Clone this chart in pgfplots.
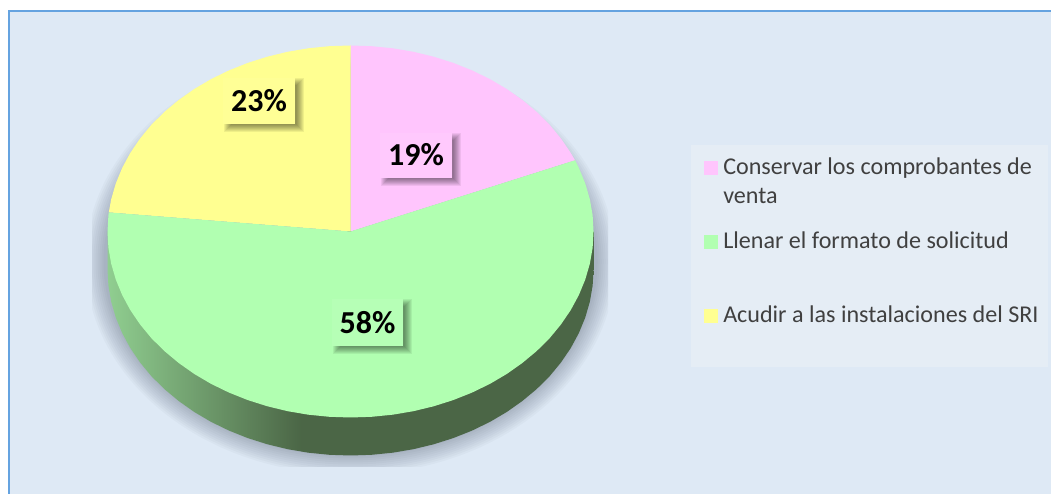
\documentclass[border=0pt]{standalone}
\usepackage{pgfplots}
\pgfplotsset{compat=1.18}
\usepackage{fontspec}
\setmainfont{Carlito}
\definecolor{panelbg}{HTML}{DEE9F5}
\definecolor{panelline}{HTML}{65A3E0}
\definecolor{legbg}{HTML}{E5EDF5}
\definecolor{piepink}{HTML}{FFC5FD}
\definecolor{piegreen}{HTML}{B1FFB1}
\definecolor{pieyellow}{HTML}{FFFF91}
\definecolor{labpink}{HTML}{FFC9FD}
\definecolor{labgreen}{HTML}{B6FFB6}
\definecolor{labyellow}{HTML}{FFFF96}
\definecolor{legtext}{HTML}{404040}
\definecolor{shadowc}{HTML}{101E38}
\definecolor{sideA}{HTML}{90CE90}
\definecolor{sideB}{HTML}{4B6646}
\pgfdeclarehorizontalshading{sideshade}{100bp}{%
  color(0bp)=(sideA); color(25bp)=(sideA); color(44.9bp)=(sideB); color(100bp)=(sideB)}
% one layer of the soft shadow behind a data label
\newcommand\shd[5]{\fill[black,opacity=.062]
  ([shift={(4.5pt-#5pt,-4.5pt+#5pt)}]axis cs:#1,#3) rectangle ([shift={(4.5pt+#5pt,-4.5pt-#5pt)}]axis cs:#2,#4);}
% data label: x1 x2 ytop ybottom fill text
\newcommand\lab[6]{%
  \shd{#1}{#2}{#3}{#4}{4}\shd{#1}{#2}{#3}{#4}{3}\shd{#1}{#2}{#3}{#4}{2}\shd{#1}{#2}{#3}{#4}{1}%
  \shd{#1}{#2}{#3}{#4}{0}\shd{#1}{#2}{#3}{#4}{-1}\shd{#1}{#2}{#3}{#4}{-2}\shd{#1}{#2}{#3}{#4}{-3}%
  \fill[#5] (axis cs:#1,#3) rectangle (axis cs:#2,#4);
  \node[anchor=base,font=\fontsize{32}{32}\selectfont\bfseries,text=black,inner sep=0pt]
    at (axis cs:{(#1+#2)/2},{#4+12}) {#6};}
\begin{document}
\begin{tikzpicture}
\begin{axis}[
  at={(0,0)},anchor=south west,
  scale only axis,width=1051pt,height=494pt,
  xmin=-350.5,xmax=700.5,ymin=-262.5,ymax=231.5,
  hide axis,clip=false]

% panel
\addplot[fill=panelbg,draw=none] coordinates {(-342.5,220.5) (720,220.5) (720,-280) (-342.5,-280)} --cycle;
\addplot[draw=panelline,line width=2pt] coordinates {(-342,-280) (-342,220.5) (720,220.5)};

% soft shadow of the pie
\begin{scope}
\clip (axis cs:-258.5,231.5) rectangle (axis cs:257.5,-235.5);
\fill[shadowc,opacity=.026] (axis cs:0,-30) ellipse [x radius=265,y radius=213];
\fill[shadowc,opacity=.026] (axis cs:0,-30) ellipse [x radius=263,y radius=211];
\fill[shadowc,opacity=.026] (axis cs:0,-30) ellipse [x radius=261,y radius=209];
\fill[shadowc,opacity=.026] (axis cs:0,-30) ellipse [x radius=259,y radius=207];
\fill[shadowc,opacity=.026] (axis cs:0,-30) ellipse [x radius=257,y radius=205];
\fill[shadowc,opacity=.026] (axis cs:0,-30) ellipse [x radius=255,y radius=203];
\fill[shadowc,opacity=.026] (axis cs:0,-30) ellipse [x radius=253,y radius=201];
\fill[shadowc,opacity=.026] (axis cs:0,-30) ellipse [x radius=251,y radius=199];
\fill[shadowc,opacity=.026] (axis cs:0,-30) ellipse [x radius=249,y radius=197];
\fill[shadowc,opacity=.026] (axis cs:0,-30) ellipse [x radius=247,y radius=195];
\end{scope}

% side wall of the pie
\addplot[shading=sideshade,draw=none] coordinates {
(243,0) (243,-38) (242.1,-54.2) (239.3,-70.3) (234.7,-86.1) (228.3,-101.6) (220.2,-116.6)
(210.4,-131) (199.1,-144.7) (186.1,-157.6) (171.8,-169.5) (156.2,-180.5) (139.4,-190.4)
(121.5,-199.1) (102.7,-206.6) (83.1,-212.8) (62.9,-217.7) (42.2,-221.2) (21.2,-223.3) (0,-224)
(-21.2,-223.3) (-42.2,-221.2) (-62.9,-217.7) (-83.1,-212.8) (-102.7,-206.6) (-121.5,-199.1)
(-139.4,-190.4) (-156.2,-180.5) (-171.8,-169.5) (-186.1,-157.6) (-199.1,-144.7) (-210.4,-131)
(-220.2,-116.6) (-228.3,-101.6) (-234.7,-86.1) (-239.3,-70.3) (-242.1,-54.2) (-243,-38) (-243,0)
} --cycle;

% 19 % : Conservar los comprobantes de venta
\addplot[fill=piepink,draw=none] coordinates {
(0,0) (0,186) (21.2,185.3) (42.2,183.2) (62.9,179.7) (83.1,174.8) (102.7,168.6) (121.5,161.1)
(139.4,152.4) (156.2,142.5) (171.8,131.5) (186.1,119.6) (199.1,106.7) (210.4,93) (220.2,78.6)
(224.5,71.2)} --cycle;

% 23 % : Acudir a las instalaciones del SRI
\addplot[fill=pieyellow,draw=none] coordinates {
(0,0) (-241.7,19.1) (-239.3,32.3) (-234.7,48.1) (-228.3,63.6) (-220.2,78.6) (-210.4,93)
(-199.1,106.7) (-186.1,119.6) (-171.8,131.5) (-156.2,142.5) (-139.4,152.4) (-121.5,161.1)
(-102.7,168.6) (-83.1,174.8) (-62.9,179.7) (-42.2,183.2) (-21.2,185.3) (0,186)} --cycle;

% 58 % : Llenar el formato de solicitud
\addplot[fill=piegreen,draw=none] coordinates {
(0,0) (224.5,71.2) (228.3,63.6) (234.7,48.1) (239.3,32.3) (242.1,16.2) (243,0)
(242.1,-16.2) (239.3,-32.3) (234.7,-48.1) (228.3,-63.6) (220.2,-78.6) (210.4,-93)
(199.1,-106.7) (186.1,-119.6) (171.8,-131.5) (156.2,-142.5) (139.4,-152.4) (121.5,-161.1)
(102.7,-168.6) (83.1,-174.8) (62.9,-179.7) (42.2,-183.2) (21.2,-185.3) (0,-186)
(-21.2,-185.3) (-42.2,-183.2) (-62.9,-179.7) (-83.1,-174.8) (-102.7,-168.6) (-121.5,-161.1)
(-139.4,-152.4) (-156.2,-142.5) (-171.8,-131.5) (-186.1,-119.6) (-199.1,-106.7) (-210.4,-93)
(-220.2,-78.6) (-228.3,-63.6) (-234.7,-48.1) (-239.3,-32.3) (-242.1,-16.2) (-243,0)
(-242.1,16.2) (-241.7,19.1)} --cycle;

% data labels
\lab{29.5}{101.5}{98.5}{53.5}{labpink}{19\%}
\lab{-127.5}{-55.5}{153.5}{107.5}{labyellow}{23\%}
\lab{-18.5}{52.5}{-67.5}{-114.5}{labgreen}{58\%}

% legend panel
\addplot[fill=legbg,draw=none] coordinates {(340.5,86.5) (697.5,86.5) (697.5,-135.5) (340.5,-135.5)} --cycle;
\addplot[fill=piepink,draw=none] coordinates {(353.5,70.5) (367.5,70.5) (367.5,56.5) (353.5,56.5)} --cycle;
\addplot[fill=piegreen,draw=none] coordinates {(353.5,-3.5) (367.5,-3.5) (367.5,-17.5) (353.5,-17.5)} --cycle;
\addplot[fill=pieyellow,draw=none] coordinates {(353.5,-77.5) (367.5,-77.5) (367.5,-91.5) (353.5,-91.5)} --cycle;

\node[anchor=base west,inner sep=0pt,text=legtext,font=\fontsize{24.1}{24.1}\selectfont] at (axis cs:372.5,56.5) {Conservar los comprobantes de};
\node[anchor=base west,inner sep=0pt,text=legtext,font=\fontsize{24.1}{24.1}\selectfont] at (axis cs:372.5,27.5) {venta};
\node[anchor=base west,inner sep=0pt,text=legtext,font=\fontsize{24.1}{24.1}\selectfont] at (axis cs:372.5,-17.5) {Llenar el formato de solicitud};
\node[anchor=base west,inner sep=0pt,text=legtext,font=\fontsize{24.1}{24.1}\selectfont] at (axis cs:372.5,-91.5) {Acudir a las instalaciones del SRI};
\end{axis}
\pgfresetboundingbox
\useasboundingbox (0,0) rectangle (1051pt,494pt);
\end{tikzpicture}
\end{document}
